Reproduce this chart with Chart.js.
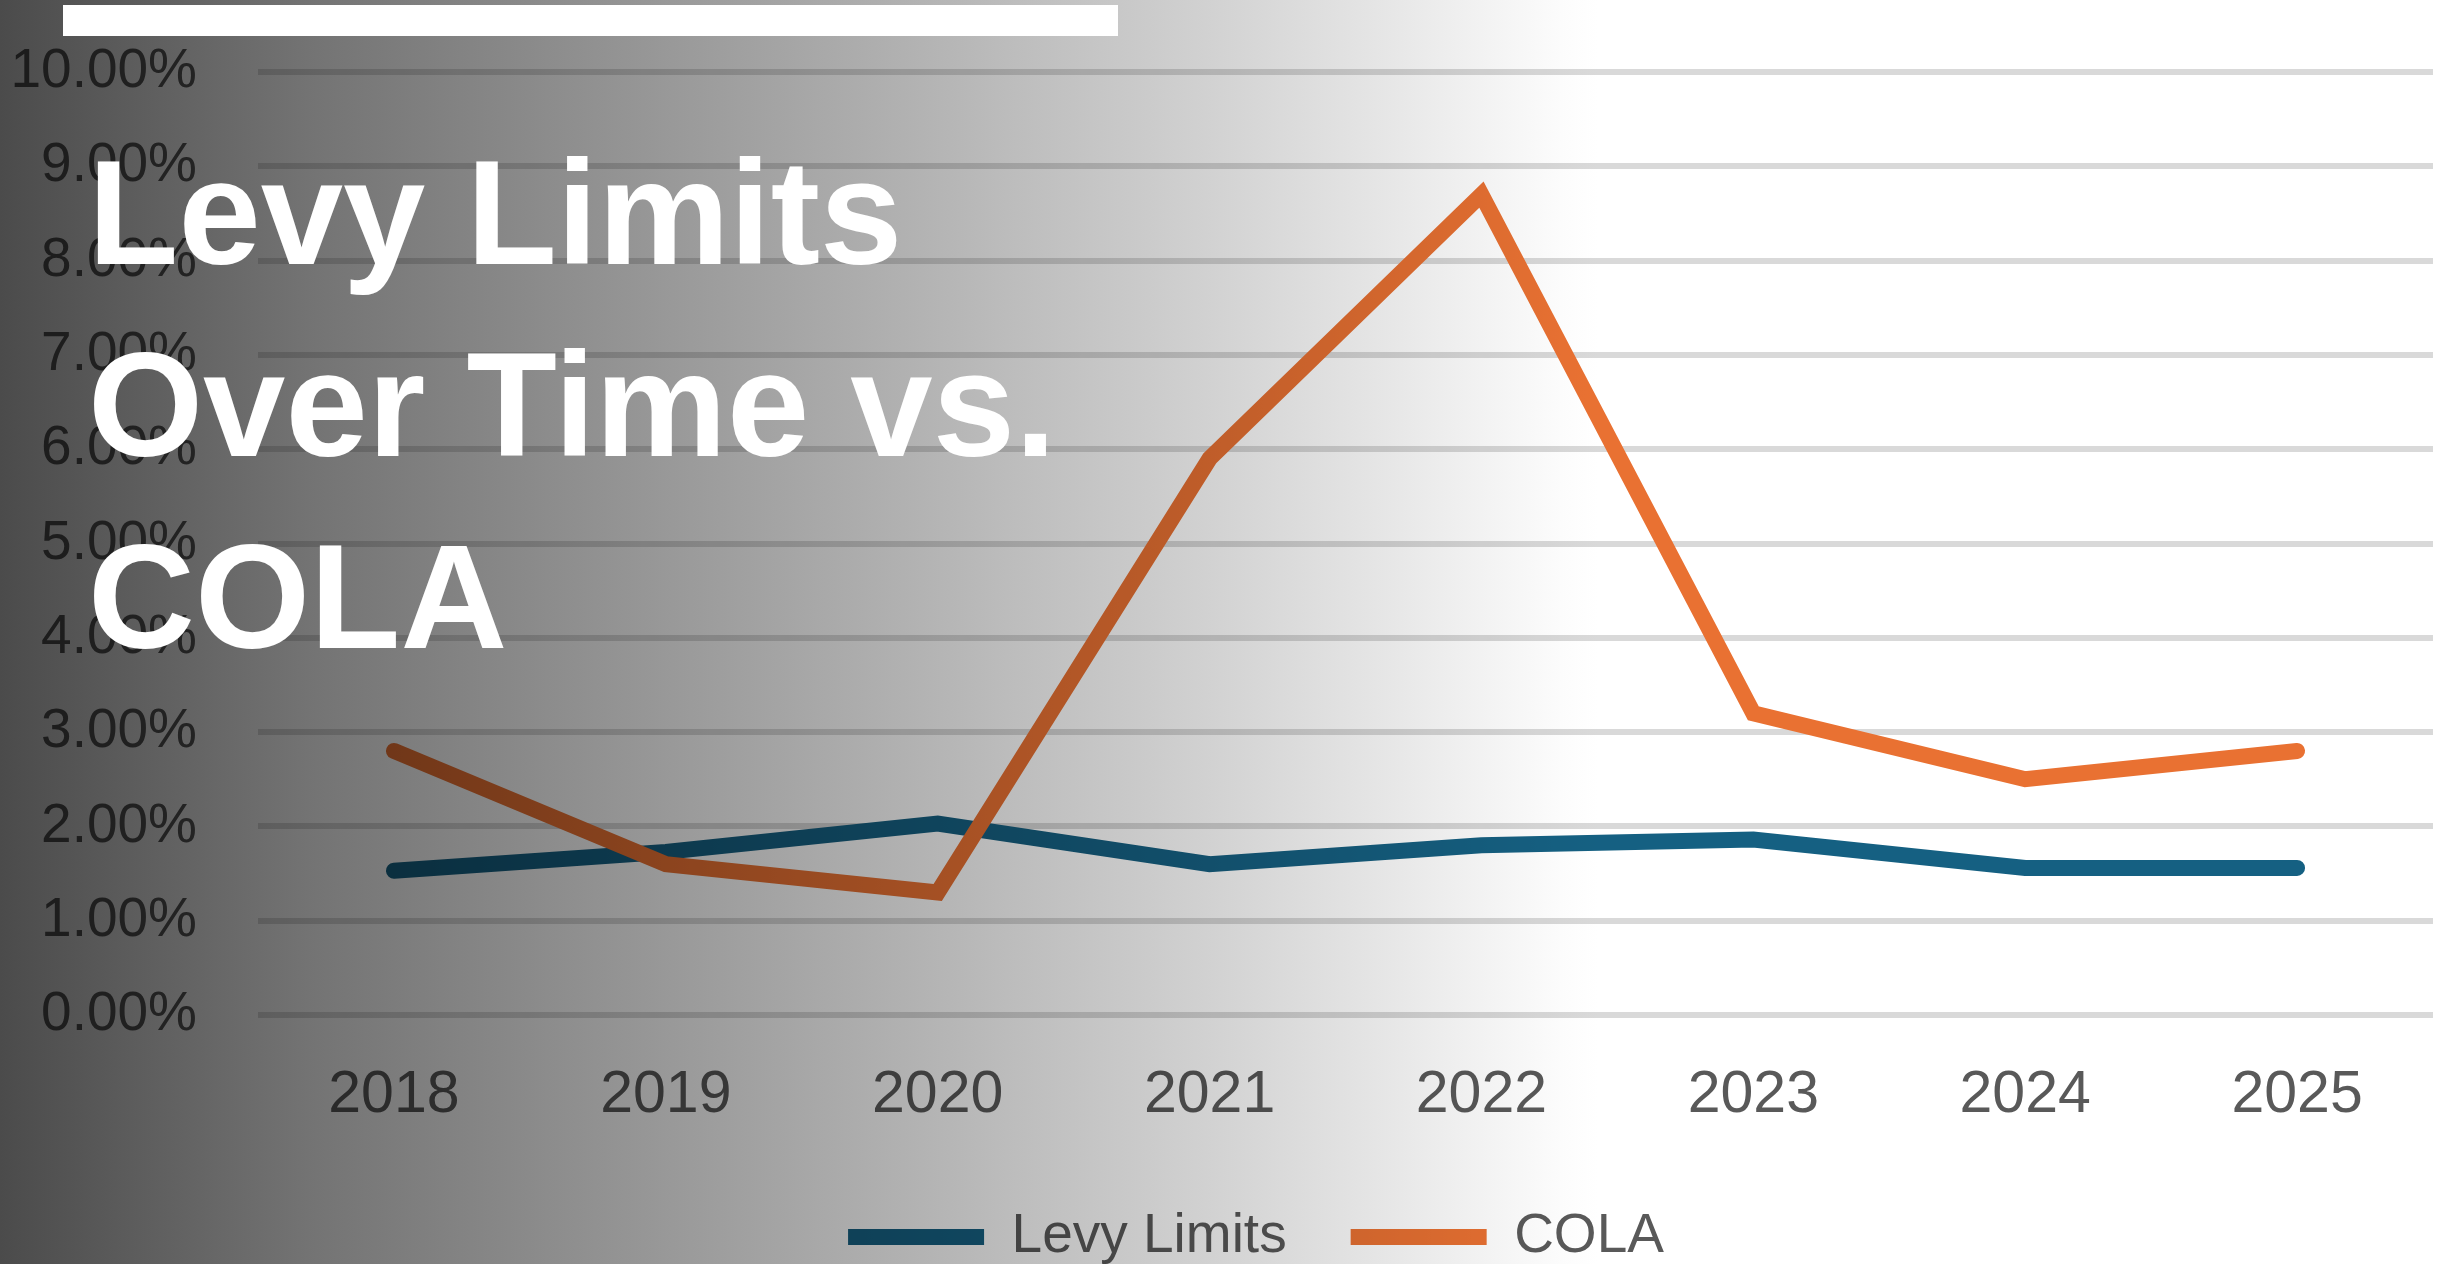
<!DOCTYPE html>
<html>
<head>
<meta charset="utf-8">
<script src="https://cdn.jsdelivr.net/npm/chart.js@4.4.1/dist/chart.umd.min.js"></script>
<style>
  html, body { margin: 0; padding: 0; background: #ffffff; }
  #wrap { position: relative; width: 2458px; height: 1264px; overflow: hidden; background: #ffffff; }
  #chart { position: absolute; left: 0; top: 0; }
  #shade {
    position: absolute; left: 0; top: 0; width: 2458px; height: 1264px;
    pointer-events: none; mix-blend-mode: multiply;
    background: linear-gradient(to right,
      #4b4b4b 0%, #737373 12.5%, #939393 25%, #b3b3b3 37.5%,
      #d1d1d1 49%, #e8e8e8 57%, #fcfcfc 63.5%, #ffffff 65%, #ffffff 100%);
  }
  #bar { position: absolute; left: 63px; top: 5px; width: 1055px; height: 31px; background: #ffffff; }
  #title {
    position: absolute; left: 88px; top: 117px; margin: 0;
    font-family: 'Liberation Sans', Arial, sans-serif; font-weight: bold;
    font-size: 148px; line-height: 192px; color: #ffffff; white-space: nowrap;
  }
</style>
</head>
<body>
<div id="wrap">
  <canvas id="chart" width="2458" height="1264"></canvas>
  <div id="shade"></div>
  <div id="bar"></div>
  <div id="title">Levy Limits<br>Over Time vs.<br>COLA</div>
</div>
<script>
const years = ['2018', '2019', '2020', '2021', '2022', '2023', '2024', '2025'];
const levyLimits = [1.53, 1.73, 2.03, 1.60, 1.80, 1.86, 1.56, 1.56];
const cola = [2.8, 1.6, 1.3, 5.9, 8.7, 3.2, 2.5, 2.8];
const yTicks = [0, 1, 2, 3, 4, 5, 6, 7, 8, 9, 10];

Chart.defaults.font.family = "'Liberation Sans', Arial, sans-serif";
Chart.defaults.color = '#595959';

const legendShift = {
  id: 'legendShift',
  afterLayout(chart) {
    const lg = chart.legend;
    if (lg) { lg.left += 79; }
  }
};

new Chart(document.getElementById('chart'), {
  type: 'line',
  data: {
    labels: years,
    datasets: [
      {
        label: 'Levy Limits', data: levyLimits,
        borderColor: '#156082', backgroundColor: '#156082',
        borderWidth: 16, borderCapStyle: 'round', borderJoinStyle: 'miter',
        pointRadius: 0, pointHoverRadius: 0, tension: 0, order: 1
      },
      {
        label: 'COLA', data: cola,
        borderColor: '#E97132', backgroundColor: '#E97132',
        borderWidth: 16, borderCapStyle: 'round', borderJoinStyle: 'miter',
        pointRadius: 0, pointHoverRadius: 0, tension: 0, order: 0
      }
    ]
  },
  plugins: [legendShift],
  options: {
    responsive: false,
    animation: false,
    devicePixelRatio: 1,
    layout: { padding: { left: 0, right: 25, top: 72, bottom: -10.5 } },
    plugins: {
      tooltip: { enabled: false },
      title: { display: false },
      legend: {
        display: true,
        position: 'bottom',
        labels: {
          usePointStyle: true,
          pointStyle: 'line',
          pointStyleWidth: 136,
          padding: 64,
          color: '#595959',
          font: { size: 55 },
          sort: (a, b) => a.datasetIndex - b.datasetIndex
        }
      }
    },
    scales: {
      x: {
        offset: true,
        grid: { display: false, drawTicks: false },
        border: { display: false },
        ticks: { padding: 45, font: { size: 59 }, color: '#595959' },
        afterFit: (s) => { s.height = 130.5; }
      },
      y: {
        min: 0, max: 10,
        afterBuildTicks: (s) => { s.ticks = yTicks.map(v => ({ value: v })); },
        grid: { color: '#d9d9d9', lineWidth: 6, drawTicks: true, tickLength: 61, tickColor: 'rgba(0,0,0,0)' },
        border: { display: false },
        ticks: {
          padding: 0, font: { size: 55 }, color: '#595959',
          callback: (v) => Number(v).toFixed(2) + '%'
        },
        afterFit: (s) => { s.width = 258; }
      }
    }
  }
});
</script>
</body>
</html>
